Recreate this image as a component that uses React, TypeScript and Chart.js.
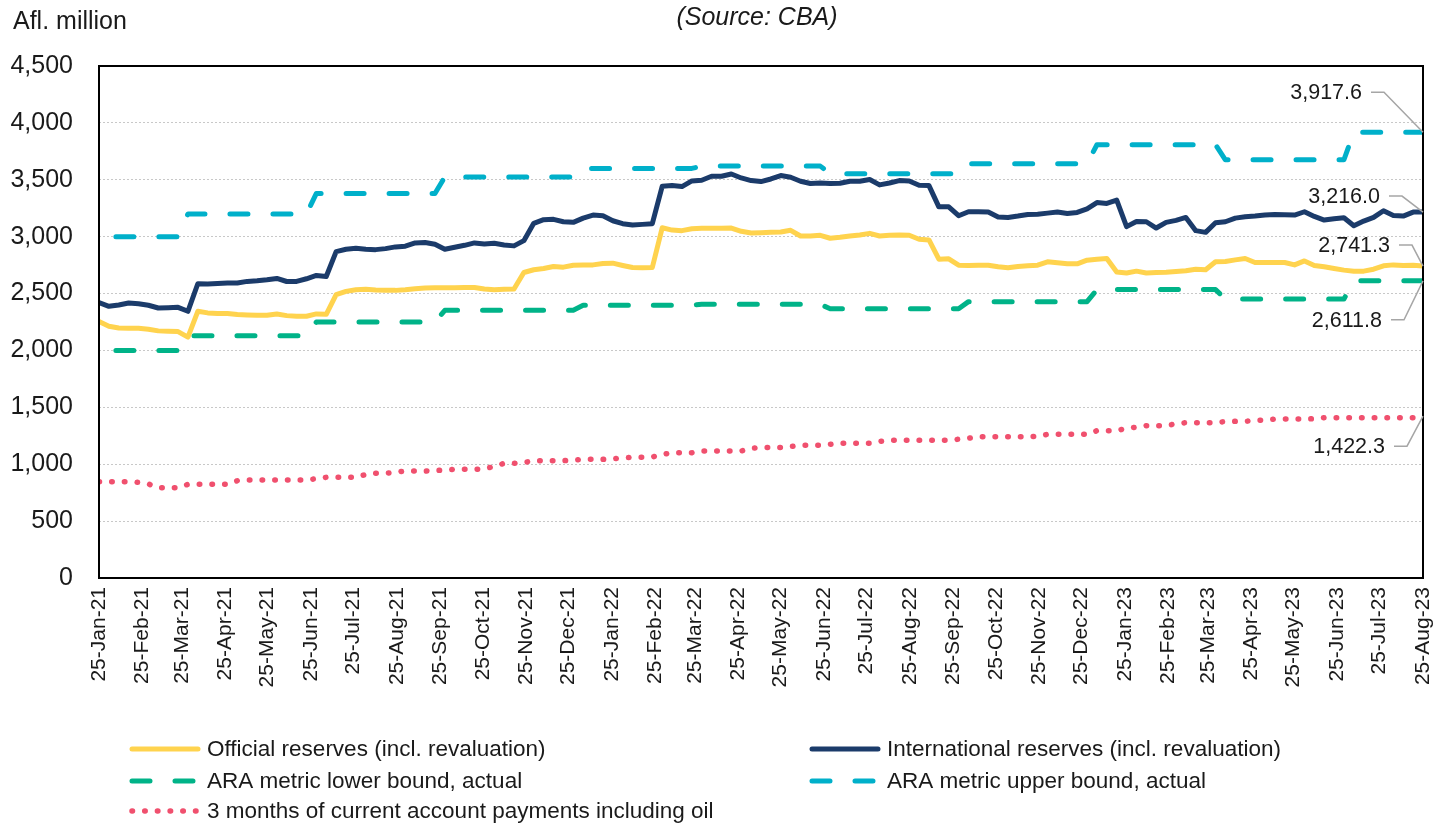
import React, { useEffect, useRef } from 'react';
import { Chart, registerables } from 'chart.js';

Chart.register(...registerables);

// ---------- DATA ----------
const MONTH_LABELS = [
  '25-Jan-21', '25-Feb-21', '25-Mar-21', '25-Apr-21', '25-May-21', '25-Jun-21', '25-Jul-21', '25-Aug-21',
  '25-Sep-21', '25-Oct-21', '25-Nov-21', '25-Dec-21', '25-Jan-22', '25-Feb-22', '25-Mar-22', '25-Apr-22',
  '25-May-22', '25-Jun-22', '25-Jul-22', '25-Aug-22', '25-Sep-22', '25-Oct-22', '25-Nov-22', '25-Dec-22',
  '25-Jan-23', '25-Feb-23', '25-Mar-23', '25-Apr-23', '25-May-23', '25-Jun-23', '25-Jul-23', '25-Aug-23',
];
const FIRST_OBS = '25-Jan-21';
const LAST_OBS = '25-Aug-23';

const SERIES_NAMES = [
  'Official reserves (incl. revaluation)',
  'International reserves (incl. revaluation)',
  'ARA metric lower bound, actual',
  'ARA metric upper bound, actual',
  '3 months of current account payments including oil',
];

const OFFICIAL = [
  2255, 2213, 2198, 2196, 2195, 2187, 2172, 2169, 2166, 2117,
  2344, 2330, 2324, 2324, 2315, 2312, 2309, 2309, 2321, 2306,
  2301, 2301, 2321, 2318, 2490, 2519, 2534, 2537, 2531, 2528,
  2528, 2534, 2542, 2548, 2550, 2551, 2551, 2554, 2554, 2540,
  2534, 2537, 2540, 2685, 2709, 2720, 2738, 2732, 2749, 2752,
  2752, 2764, 2767, 2747, 2729, 2726, 2729, 3078, 3058, 3053,
  3070, 3073, 3073, 3073, 3076, 3047, 3032, 3035, 3038, 3041,
  3056, 3006, 3006, 3012, 2986, 2994, 3006, 3015, 3029, 3006,
  3012, 3015, 3012, 2977, 2971, 2802, 2805, 2749, 2747, 2749,
  2749, 2735, 2726, 2738, 2744, 2749, 2779, 2770, 2761, 2761,
  2793, 2802, 2808, 2690, 2680, 2697, 2680, 2686, 2688, 2694,
  2700, 2714, 2709, 2779, 2782, 2796, 2808, 2773, 2773, 2773,
  2773, 2752, 2787, 2747, 2735, 2720, 2706, 2697, 2697, 2714,
  2744, 2752, 2747, 2749, 2741.3,
];

const INTERNATIONAL = [
  2420, 2388, 2400, 2417, 2411, 2397, 2373, 2376, 2379, 2344,
  2586, 2583, 2589, 2592, 2592, 2607, 2612, 2621, 2633, 2606,
  2607, 2630, 2659, 2650, 2869, 2889, 2898, 2889, 2886, 2895,
  2910, 2916, 2945, 2948, 2933, 2889, 2907, 2924, 2945, 2936,
  2942, 2927, 2919, 2965, 3117, 3149, 3152, 3131, 3126, 3163,
  3190, 3184, 3140, 3114, 3102, 3108, 3114, 3443, 3449, 3440,
  3490, 3496, 3531, 3531, 3551, 3516, 3493, 3484, 3507, 3537,
  3522, 3487, 3467, 3472, 3467, 3469, 3487, 3487, 3502, 3455,
  3472, 3493, 3490, 3452, 3449, 3262, 3262, 3184, 3219, 3219,
  3216, 3172, 3169, 3181, 3195, 3198, 3207, 3216, 3204, 3213,
  3245, 3300, 3292, 3321, 3088, 3134, 3131, 3076, 3126, 3143,
  3169, 3053, 3038, 3123, 3131, 3163, 3175, 3181, 3190, 3195,
  3193, 3190, 3219, 3178, 3146, 3158, 3166, 3096, 3137, 3169,
  3228, 3187, 3181, 3216, 3216.0,
];

const ARA_LOWER = [
  null, 2000, 2000, 2000, 2000, 2000, 2000, 2000, 2000, 2130,
  2130, 2130, 2130, 2130, 2130, 2130, 2130, 2130, 2130, 2130,
  2130, 2130, 2250, 2250, 2250, 2250, 2250, 2250, 2250, 2250,
  2250, 2250, 2250, 2250, 2250, 2353, 2353, 2353, 2353, 2353,
  2353, 2353, 2353, 2353, 2353, 2353, 2353, 2353, 2353, 2397,
  2397, 2397, 2397, 2397, 2397, 2397, 2397, 2397, 2397, 2397,
  2397, 2405, 2405, 2405, 2405, 2405, 2405, 2405, 2405, 2405,
  2405, 2405, 2405, 2405, 2367, 2367, 2367, 2367, 2367, 2367,
  2367, 2367, 2367, 2367, 2367, 2367, 2367, 2367, 2429, 2429,
  2429, 2429, 2429, 2429, 2429, 2429, 2429, 2429, 2429, 2429,
  2429, 2535, 2535, 2535, 2535, 2535, 2535, 2535, 2535, 2535,
  2535, 2535, 2535, 2535, 2452, 2452, 2452, 2452, 2452, 2452,
  2452, 2452, 2452, 2452, 2452, 2452, 2452, 2611.8, 2611.8, 2611.8,
  2611.8, 2611.8, 2611.8, 2611.8, 2611.8,
];

const ARA_UPPER = [
  null, 3000, 3000, 3000, 3000, 3000, 3000, 3000, 3000, 3200,
  3200, 3200, 3200, 3200, 3200, 3200, 3200, 3200, 3200, 3200,
  3200, 3200, 3380, 3380, 3380, 3380, 3380, 3380, 3380, 3380,
  3380, 3380, 3380, 3380, 3380, 3525, 3525, 3525, 3525, 3525,
  3525, 3525, 3525, 3525, 3525, 3525, 3525, 3525, 3525, 3600,
  3600, 3600, 3600, 3600, 3600, 3600, 3600, 3600, 3600, 3600,
  3600, 3620, 3620, 3620, 3620, 3620, 3620, 3620, 3620, 3620,
  3620, 3620, 3620, 3620, 3554, 3554, 3554, 3554, 3554, 3554,
  3554, 3554, 3554, 3554, 3554, 3554, 3554, 3554, 3641, 3641,
  3641, 3641, 3641, 3641, 3641, 3641, 3641, 3641, 3641, 3641,
  3641, 3808, 3808, 3808, 3808, 3808, 3808, 3808, 3808, 3808,
  3808, 3808, 3808, 3808, 3676, 3676, 3676, 3676, 3676, 3676,
  3676, 3676, 3676, 3676, 3676, 3676, 3676, 3917.6, 3917.6, 3917.6,
  3917.6, 3917.6, 3917.6, 3917.6, 3917.6,
];

const CA_PAYMENTS = [
  846, 846, 846, 846, 840, 826, 794, 794, 794, 823,
  823, 823, 823, 823, 855, 861, 861, 861, 861, 861,
  861, 861, 873, 885, 885, 885, 885, 910, 920, 920,
  930, 940, 940, 940, 945, 949, 955, 955, 955, 960,
  980, 1008, 1008, 1015, 1031, 1031, 1031, 1031, 1035, 1043,
  1043, 1043, 1048, 1055, 1061, 1061, 1064, 1085, 1101, 1101,
  1101, 1116, 1116, 1116, 1116, 1116, 1140, 1146, 1146, 1146,
  1155, 1166, 1166, 1166, 1175, 1184, 1184, 1184, 1184, 1200,
  1210, 1210, 1210, 1210, 1210, 1210, 1210, 1220, 1228, 1242,
  1242, 1242, 1242, 1242, 1242, 1245, 1263, 1263, 1263, 1263,
  1263, 1295, 1295, 1295, 1316, 1325, 1339, 1339, 1339, 1355,
  1365, 1365, 1365, 1365, 1375, 1377, 1377, 1385, 1389, 1397,
  1397, 1397, 1397, 1400, 1409, 1409, 1409, 1409, 1409, 1409,
  1409, 1409, 1409, 1409, 1422.3,
];

const Y_MIN = 0;
const Y_MAX = 4500;
const Y_STEP = 500;

// ---------- HELPERS ----------
const MONTH_INDEX: Record<string, number> = {
  Jan: 0, Feb: 1, Mar: 2, Apr: 3, May: 4, Jun: 5, Jul: 6, Aug: 7, Sep: 8, Oct: 9, Nov: 10, Dec: 11,
};
function labelToDay(label: string): number {
  const [d, m, y] = label.split('-');
  return Date.UTC(2000 + Number(y), MONTH_INDEX[m], Number(d)) / 86400000;
}
const DAY0 = labelToDay(FIRST_OBS);
const SPAN = labelToDay(LAST_OBS) - DAY0;
const MONTH_DAYS = MONTH_LABELS.map((l) => labelToDay(l) - DAY0);

function toPoints(values: (number | null)[]) {
  const n = values.length;
  return values.map((v, i) => ({ x: (SPAN * i) / (n - 1), y: v }));
}

const FONT = '"Liberation Sans", Arial, Helvetica, sans-serif';
const INK = '#1a1a1a';

const COLORS = ['#FFD34E', '#1B3B6A', '#00B388', '#00B0CA', '#F0506E'];
const DASH = [18, 25];
const DOT = [0.5, 12.2];

// label placement (styles) for end-point annotations: dataset index, text right offset, text y offset
const END_LABELS = [
  { ds: 3, dx: -61, dy: -39 },
  { ds: 1, dx: -43, dy: -15 },
  { ds: 0, dx: -33, dy: -20 },
  { ds: 2, dx: -41, dy: 40 },
  { ds: 4, dx: -38, dy: 31 },
];

const LEGEND_POS = [
  { ds: 0, x: 130, y: 749 },
  { ds: 1, x: 810, y: 749 },
  { ds: 2, x: 130, y: 781 },
  { ds: 3, x: 810, y: 781 },
  { ds: 4, x: 130, y: 811 },
];

const overlayPlugin = {
  id: 'overlay',
  afterDraw(chart: any) {
    const { ctx, chartArea: a, scales } = chart;
    const xs = scales.x;
    const ys = scales.y;
    ctx.save();

    // plot frame
    ctx.strokeStyle = '#000';
    ctx.lineWidth = 2;
    ctx.setLineDash([]);
    ctx.strokeRect(a.left, a.top, a.right - a.left, a.bottom - a.top);

    // unit + source
    ctx.fillStyle = INK;
    ctx.textBaseline = 'middle';
    ctx.textAlign = 'left';
    ctx.font = `25px ${FONT}`;
    ctx.fillText('Afl. million', 13, 22);
    ctx.textAlign = 'center';
    ctx.font = `italic 25px ${FONT}`;
    ctx.fillText('(Source: CBA)', 757, 18);

    // end labels
    ctx.font = `21.5px ${FONT}`;
    END_LABELS.forEach((lab) => {
      const ds = chart.data.datasets[lab.ds];
      const last = ds.data[ds.data.length - 1];
      const ex = xs.getPixelForValue(last.x);
      const ey = ys.getPixelForValue(last.y);
      const tx = ex + lab.dx;
      const ty = ey + lab.dy;
      ctx.fillStyle = INK;
      ctx.textAlign = 'right';
      ctx.fillText(
        Number(last.y).toLocaleString('en-US', { minimumFractionDigits: 1, maximumFractionDigits: 1 }),
        tx,
        ty
      );
      ctx.strokeStyle = '#A6A6A6';
      ctx.lineWidth = 1.5;
      ctx.beginPath();
      ctx.moveTo(tx + 9, ty - 1);
      ctx.lineTo(tx + 22, ty - 1);
      ctx.lineTo(ex, ey);
      ctx.stroke();
    });

    // legend
    ctx.font = `22.5px ${FONT}`;
    ctx.textAlign = 'left';
    LEGEND_POS.forEach((p) => {
      const ds = chart.data.datasets[p.ds];
      ctx.save();
      ctx.strokeStyle = ds.borderColor;
      ctx.lineWidth = ds.borderWidth;
      ctx.lineCap = 'round';
      ctx.setLineDash(ds.borderDash || []);
      ctx.lineDashOffset = 0;
      ctx.beginPath();
      ctx.moveTo(p.x + 2, p.y);
      ctx.lineTo(p.x + 68, p.y);
      ctx.stroke();
      ctx.restore();
      ctx.fillStyle = INK;
      ctx.fillText(SERIES_NAMES[p.ds], p.x + 77, p.y + 1);
    });

    ctx.restore();
  },
};

export default function App() {
  const canvasRef = useRef<HTMLCanvasElement | null>(null);

  useEffect(() => {
    if (!canvasRef.current) return;
    Chart.defaults.font.family = FONT;

    const base = {
      pointRadius: 0,
      pointHoverRadius: 0,
      tension: 0,
      fill: false,
      borderJoinStyle: 'round' as const,
    };

    const chart = new Chart(canvasRef.current, {
      type: 'line',
      data: {
        datasets: [
          { ...base, label: SERIES_NAMES[0], data: toPoints(OFFICIAL), borderColor: COLORS[0], borderWidth: 5, borderCapStyle: 'round' },
          { ...base, label: SERIES_NAMES[1], data: toPoints(INTERNATIONAL), borderColor: COLORS[1], borderWidth: 5, borderCapStyle: 'round' },
          { ...base, label: SERIES_NAMES[2], data: toPoints(ARA_LOWER), borderColor: COLORS[2], borderWidth: 5, borderDash: DASH, borderDashOffset: 36, borderCapStyle: 'round' },
          { ...base, label: SERIES_NAMES[3], data: toPoints(ARA_UPPER), borderColor: COLORS[3], borderWidth: 5, borderDash: DASH, borderDashOffset: 36, borderCapStyle: 'round' },
          { ...base, label: SERIES_NAMES[4], data: toPoints(CA_PAYMENTS), borderColor: COLORS[4], borderWidth: 5.5, borderDash: DOT, borderCapStyle: 'round' },
        ],
      },
      options: {
        animation: false,
        responsive: false,
        parsing: false,
        normalized: true,
        events: [],
        layout: { padding: { top: 66, right: 14, bottom: 125, left: 0 } },
        plugins: {
          legend: { display: false },
          tooltip: { enabled: false },
          title: { display: false },
        },
        scales: {
          x: {
            type: 'linear',
            min: 0,
            max: SPAN,
            afterBuildTicks: (s: any) => {
              s.ticks = MONTH_DAYS.map((v) => ({ value: v }));
            },
            afterFit: (s: any) => {
              s.height = 120;
              s.paddingLeft = 0;
              s.paddingRight = 0;
            },
            ticks: {
              autoSkip: false,
              minRotation: 90,
              maxRotation: 90,
              padding: 9,
              color: INK,
              font: { size: 21, family: FONT },
              callback: (_v: any, i: number) => MONTH_LABELS[i],
            },
            grid: { display: false, drawTicks: false },
            border: { display: false },
          },
          y: {
            type: 'linear',
            min: Y_MIN,
            max: Y_MAX,
            afterFit: (s: any) => {
              s.width = 99;
              s.paddingTop = 0;
              s.paddingBottom = 0;
            },
            ticks: {
              stepSize: Y_STEP,
              padding: 26,
              color: INK,
              font: { size: 25, family: FONT },
              callback: (v: any) => Number(v).toLocaleString('en-US'),
            },
            grid: { color: '#C8C8C8', lineWidth: 1, drawTicks: false },
            border: { display: false, dash: [2, 2] },
          },
        },
      },
      plugins: [overlayPlugin],
    } as any);

    return () => chart.destroy();
  }, []);

  return (
    <div style={{ position: 'fixed', left: 0, top: 0, width: 1437, height: 823, background: '#fff' }}>
      <canvas ref={canvasRef} width={1437} height={823} style={{ width: 1437, height: 823, display: 'block' }} />
    </div>
  );
}
